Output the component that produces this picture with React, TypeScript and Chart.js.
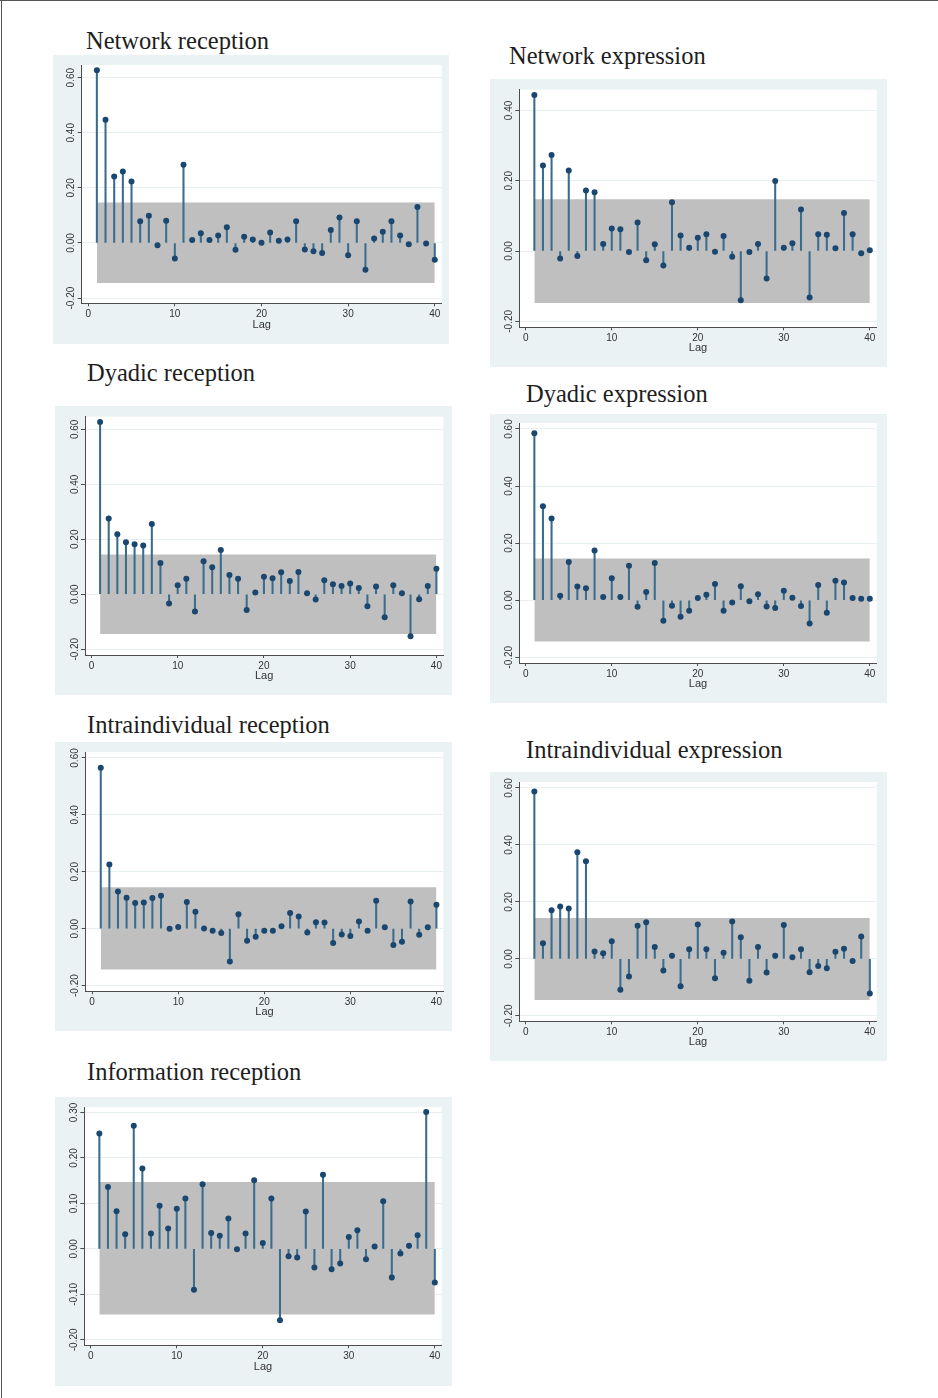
import React, { useEffect, useRef } from "react";
import { Chart, registerables } from "chart.js";

Chart.register(...registerables);

// ---------- data ----------
const lags = [
  1, 2, 3, 4, 5, 6, 7, 8, 9, 10, 11, 12, 13, 14, 15, 16, 17, 18, 19, 20,
  21, 22, 23, 24, 25, 26, 27, 28, 29, 30, 31, 32, 33, 34, 35, 36, 37, 38, 39, 40,
];
const xTicks = [0, 10, 20, 30, 40];

const networkReception = [
  0.627, 0.447, 0.241, 0.259, 0.223, 0.079, 0.099, -0.008, 0.081, -0.056,
  0.284, 0.011, 0.035, 0.011, 0.027, 0.057, -0.025, 0.023, 0.013, 0.001,
  0.038, 0.008, 0.013, 0.079, -0.024, -0.03, -0.036, 0.047, 0.092, -0.045,
  0.079, -0.097, 0.016, 0.041, 0.079, 0.027, -0.005, 0.131, -0.002, -0.061,
];
const networkExpression = [
  0.444, 0.243, 0.273, -0.021, 0.229, -0.014, 0.172, 0.167, 0.02, 0.064,
  0.062, -0.003, 0.081, -0.026, 0.019, -0.041, 0.139, 0.044, 0.009, 0.038,
  0.048, -0.002, 0.043, -0.016, -0.14, -0.003, 0.02, -0.078, 0.199, 0.009,
  0.022, 0.118, -0.132, 0.048, 0.046, 0.008, 0.108, 0.048, -0.006, 0.002,
];
const dyadicReception = [
  0.627, 0.276, 0.218, 0.189, 0.182, 0.177, 0.256, 0.114, -0.034, 0.033,
  0.056, -0.063, 0.12, 0.098, 0.161, 0.07, 0.056, -0.057, 0.006, 0.064,
  0.058, 0.08, 0.048, 0.081, 0.004, -0.019, 0.051, 0.036, 0.03, 0.039,
  0.023, -0.044, 0.028, -0.084, 0.033, 0.004, -0.153, -0.018, 0.03, 0.093,
];
const dyadicExpression = [
  0.585, 0.329, 0.286, 0.016, 0.134, 0.048, 0.042, 0.174, 0.011, 0.077,
  0.011, 0.121, -0.023, 0.029, 0.13, -0.072, -0.019, -0.058, -0.037, 0.008,
  0.019, 0.057, -0.037, -0.008, 0.049, -0.004, 0.021, -0.022, -0.027, 0.033,
  0.009, -0.02, -0.082, 0.053, -0.044, 0.068, 0.062, 0.008, 0.005, 0.005,
];
const intraReception = [
  0.566, 0.226, 0.131, 0.109, 0.09, 0.092, 0.108, 0.116, 0.0, 0.006,
  0.094, 0.06, 0.001, -0.007, -0.015, -0.115, 0.051, -0.042, -0.028, -0.007,
  -0.007, 0.009, 0.055, 0.043, -0.013, 0.023, 0.022, -0.05, -0.02, -0.026,
  0.025, -0.007, 0.098, 0.005, -0.057, -0.046, 0.096, -0.021, 0.005, 0.084,
];
const intraExpression = [
  0.588, 0.055, 0.171, 0.184, 0.177, 0.374, 0.343, 0.026, 0.02, 0.062,
  -0.108, -0.062, 0.116, 0.129, 0.042, -0.041, 0.011, -0.096, 0.034, 0.121,
  0.034, -0.068, 0.022, 0.131, 0.076, -0.077, 0.042, -0.048, 0.011, 0.119,
  0.006, 0.034, -0.047, -0.025, -0.033, 0.025, 0.036, -0.007, 0.079, -0.121,
];
const infoReception = [
  0.254, 0.136, 0.083, 0.032, 0.271, 0.177, 0.034, 0.095, 0.045, 0.088,
  0.111, -0.09, 0.142, 0.035, 0.029, 0.067, -0.001, 0.034, 0.151, 0.013,
  0.111, -0.157, -0.016, -0.019, 0.082, -0.041, 0.163, -0.045, -0.032, 0.026,
  0.041, -0.023, 0.005, 0.105, -0.063, -0.01, 0.007, 0.03, 0.301, -0.074,
];

const titles = [
  "Network reception",
  "Network expression",
  "Dyadic reception",
  "Dyadic expression",
  "Intraindividual reception",
  "Intraindividual expression",
  "Information reception",
];
const seriesList = [
  networkReception,
  networkExpression,
  dyadicReception,
  dyadicExpression,
  intraReception,
  intraExpression,
  infoReception,
];
const bandUpper = [0.147, 0.147, 0.145, 0.146, 0.146, 0.144, 0.147];
const bandLower = [-0.145, -0.148, -0.145, -0.145, -0.143, -0.144, -0.144];
const ticksStd = [-0.2, 0, 0.2, 0.4, 0.6];
const ticksNetExp = [-0.2, 0, 0.2, 0.4];
const ticksInfo = [-0.2, -0.1, 0, 0.1, 0.2, 0.3];
const yTickSets = [ticksStd, ticksNetExp, ticksStd, ticksStd, ticksStd, ticksStd, ticksInfo];
const yMins = [-0.219, -0.217, -0.221, -0.22, -0.22, -0.219, -0.212];
const yMaxs = [0.646, 0.459, 0.646, 0.621, 0.621, 0.621, 0.312];

// ---------- layout ----------
const boxes = [
  { left: 53, top: 55, width: 396, height: 289 },
  { left: 490, top: 79, width: 397, height: 288 },
  { left: 55, top: 406, width: 397, height: 289 },
  { left: 490, top: 414, width: 397, height: 289 },
  { left: 55, top: 742, width: 397, height: 289 },
  { left: 490, top: 772, width: 397, height: 289 },
  { left: 55, top: 1097, width: 397, height: 289 },
];
const insets = [
  { l: 28.7, r: 7.3, t: 10, b: 40.7 },
  { l: 29.3, r: 10.3, t: 10.7, b: 39.7 },
  { l: 30, r: 8.7, t: 10.7, b: 40 },
  { l: 29.3, r: 10.3, t: 9, b: 40 },
  { l: 30.7, r: 8.7, t: 10, b: 39.7 },
  { l: 29.3, r: 10.3, t: 10, b: 39.7 },
  { l: 29.3, r: 10.3, t: 10, b: 40.7 },
];
const titlePos = [
  { x: 86, baseline: 49 },
  { x: 509, baseline: 64 },
  { x: 87, baseline: 381 },
  { x: 526, baseline: 402 },
  { x: 87, baseline: 733 },
  { x: 526, baseline: 758 },
  { x: 87, baseline: 1080 },
];

const PANEL_BG = "#eaf2f3";
const BAND = "#bfbfbf";
const STEM = "#3a6c8e";
const MARKER = "#1a476f";
const AXIS = "#4d4d4d";
const GRID = "#e8eff1";
const SANS = '"Liberation Sans", Arial, Helvetica, sans-serif';

const plotBgPlugin = {
  id: "plotBg",
  beforeDraw(chart: any) {
    const { ctx, chartArea } = chart;
    ctx.save();
    ctx.fillStyle = "#ffffff";
    ctx.fillRect(chartArea.left, chartArea.top, chartArea.right - chartArea.left, chartArea.bottom - chartArea.top);
    ctx.restore();
  },
};

const yLabelPlugin = {
  id: "yLabels",
  afterDraw(chart: any) {
    const s = chart.scales.y;
    const ctx = chart.ctx;
    ctx.save();
    ctx.fillStyle = "#333333";
    ctx.font = `10px ${SANS}`;
    ctx.textAlign = "center";
    ctx.textBaseline = "alphabetic";
    for (const t of s.ticks) {
      const y = s.getPixelForValue(t.value);
      ctx.save();
      ctx.translate(s.right - 7.5, y);
      ctx.rotate(-Math.PI / 2);
      ctx.fillText(Number(t.value).toFixed(2), 0, 0);
      ctx.restore();
    }
    ctx.restore();
  },
};

function AcfPanel({ idx }: { idx: number }) {
  const ref = useRef<HTMLCanvasElement | null>(null);
  const box = boxes[idx];
  const inset = insets[idx];

  useEffect(() => {
    const canvas = ref.current;
    if (!canvas) return;
    const values = seriesList[idx];
    const pts = lags.map((lag, i) => ({ x: lag, y: values[i] }));
    const yTicks = yTickSets[idx];
    const chart = new Chart(canvas, {
      type: "bar",
      data: {
        datasets: [
          {
            type: "line",
            data: [
              { x: lags[0], y: bandUpper[idx] },
              { x: lags[lags.length - 1], y: bandUpper[idx] },
            ],
            borderWidth: 0,
            borderColor: "rgba(0,0,0,0)",
            backgroundColor: BAND,
            pointRadius: 0,
            fill: { value: bandLower[idx] },
            order: 3,
          } as any,
          {
            type: "bar",
            data: pts,
            backgroundColor: STEM,
            borderWidth: 0,
            barThickness: 1.4,
            order: 2,
          } as any,
          {
            type: "scatter",
            data: pts,
            pointRadius: 3,
            pointBackgroundColor: MARKER,
            pointBorderWidth: 0,
            showLine: false,
            order: 1,
          } as any,
        ],
      },
      options: {
        animation: false,
        responsive: false,
        devicePixelRatio: 1,
        events: [],
        layout: {
          autoPadding: false,
          padding: { left: 0, right: inset.r, top: inset.t, bottom: 0 },
        },
        plugins: {
          legend: { display: false },
          tooltip: { enabled: false },
          title: { display: false },
        },
        scales: {
          x: {
            type: "linear",
            min: -0.75,
            max: 40.8,
            offset: false,
            afterBuildTicks: (s: any) => {
              s.ticks = xTicks.map((v) => ({ value: v }));
            },
            afterFit: (s: any) => {
              s.height = inset.b;
            },
            grid: {
              display: true,
              drawOnChartArea: false,
              drawTicks: true,
              tickLength: 3,
              tickColor: AXIS,
              offset: false,
            },
            border: { display: true, color: AXIS, width: 1 },
            ticks: {
              autoSkip: false,
              maxRotation: 0,
              minRotation: 0,
              padding: 2,
              color: "#333333",
              font: { family: SANS, size: 10 },
              callback: (v: any) => String(v),
            },
            title: {
              display: true,
              text: "Lag",
              color: "#333333",
              font: { family: SANS, size: 11 },
              padding: { top: 0, bottom: 12 },
            },
          },
          y: {
            type: "linear",
            min: yMins[idx],
            max: yMaxs[idx],
            afterBuildTicks: (s: any) => {
              s.ticks = yTicks.map((v) => ({ value: v }));
            },
            afterFit: (s: any) => {
              s.width = inset.l;
            },
            grid: {
              display: true,
              drawOnChartArea: true,
              drawTicks: true,
              tickLength: 4,
              color: GRID,
              tickColor: AXIS,
              lineWidth: 1,
            },
            border: { display: true, color: AXIS, width: 1 },
            ticks: { display: false },
          },
        },
      } as any,
      plugins: [plotBgPlugin, yLabelPlugin],
    });
    return () => chart.destroy();
  }, [idx]);

  return (
    <div
      style={{
        position: "absolute",
        left: box.left,
        top: box.top,
        width: box.width,
        height: box.height,
        background: PANEL_BG,
      }}
    >
      <canvas
        ref={ref}
        width={box.width}
        height={box.height}
        style={{ display: "block", width: box.width, height: box.height }}
      />
    </div>
  );
}

export default function App() {
  return (
    <div
      style={{
        position: "absolute",
        left: 0,
        top: 0,
        width: 938,
        height: 1398,
        background: "#ffffff",
        overflow: "hidden",
      }}
    >
      <div style={{ position: "absolute", left: 0, top: 0, width: 938, height: 1, background: "#555" }} />
      <div style={{ position: "absolute", left: 1, top: 0, width: 1, height: 1398, background: "#555" }} />
      {titles.map((t, i) => (
        <div
          key={t}
          style={{
            position: "absolute",
            left: titlePos[i].x,
            top: titlePos[i].baseline - 20,
            fontFamily: '"Liberation Serif", "Times New Roman", serif',
            fontSize: 24.5,
            lineHeight: "24px",
            color: "#1e1e1e",
            whiteSpace: "nowrap",
          }}
        >
          {t}
        </div>
      ))}
      {titles.map((t, i) => (
        <AcfPanel key={"p" + i} idx={i} />
      ))}
    </div>
  );
}
